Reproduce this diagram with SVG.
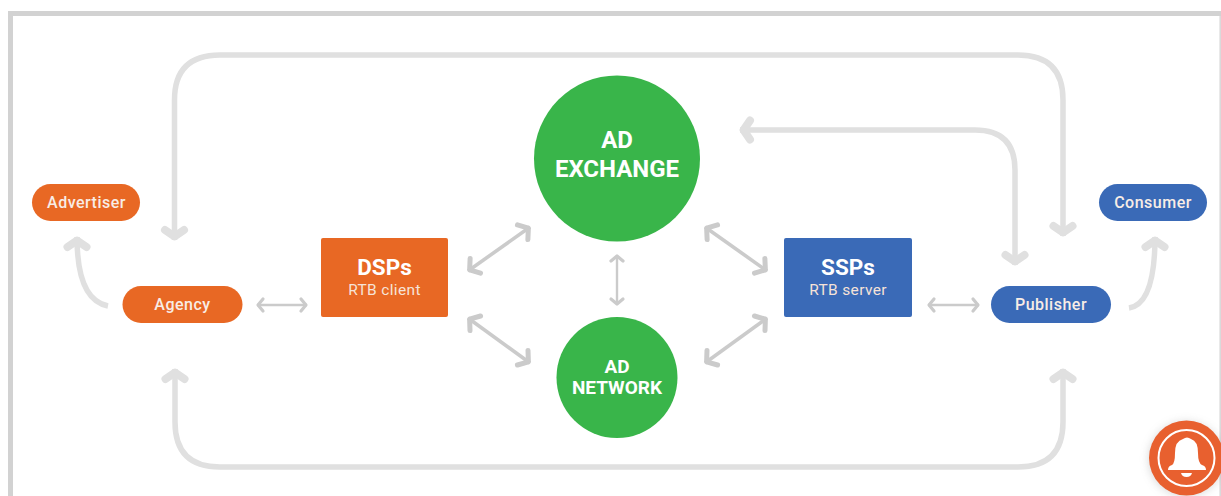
<svg xmlns="http://www.w3.org/2000/svg" width="1221" height="496" viewBox="0 0 1221 496">
<style>
text{font-family:Roboto,"Noto Sans","Liberation Sans",sans-serif;fill:#fff;text-anchor:middle}
.pill{font-size:16px;font-weight:500;letter-spacing:.5px;fill:#f8ede6}
.title{font-size:22.500px;font-weight:700}
.sub{font-size:15.500px;fill:#f6e3d8;letter-spacing:.35px}
.big{font-size:24px;font-weight:700}
.mid{font-size:19px;font-weight:700}
.org{fill:#e86824}.blu{fill:#3a6ab7}.grn{fill:#39b54a}
.thick{fill:none;stroke:#e0e0e0;stroke-width:5.500}
.thin{fill:none;stroke:#cbcbcb;stroke-width:2.400;marker-start:url(#hs);marker-end:url(#hs)}
</style>
<defs>
<marker id="hb" markerUnits="userSpaceOnUse" markerWidth="34" markerHeight="34" refX="27" refY="17" orient="auto-start-reverse" viewBox="0 0 34 34">
<path d="M17 7.500 L23.500 17 L17 26.500" fill="none" stroke="#e0e0e0" stroke-width="8" stroke-linecap="round" stroke-linejoin="round"/>
</marker>
<marker id="hs" markerUnits="userSpaceOnUse" markerWidth="20" markerHeight="20" refX="15" refY="10" orient="auto-start-reverse" viewBox="0 0 20 20">
<path d="M9 4 L14 10 L9 16" fill="none" stroke="#cbcbcb" stroke-width="3.200" stroke-linecap="round" stroke-linejoin="round"/>
</marker>
<marker id="hm" markerUnits="userSpaceOnUse" markerWidth="30" markerHeight="30" refX="23" refY="15" orient="auto-start-reverse" viewBox="0 0 30 30">
<path d="M14 6 L21 15 L14 24" fill="none" stroke="#cbcbcb" stroke-width="5" stroke-linecap="round" stroke-linejoin="round"/>
</marker>
<filter id="sh" x="-30%" y="-30%" width="160%" height="160%"><feGaussianBlur stdDeviation="5"/></filter>
</defs>
<rect width="1221" height="496" fill="#fff"/>
<path id="frame" d="M10.500 496 V13.500 H1221" fill="none" stroke="#d2d2d2" stroke-width="5"/>
<path d="M1220.200 16 V496" fill="none" stroke="#d8d8d8" stroke-width="1.500"/>
<g id="connectors">
<g class="thick">
<path d="M174.500 240 V100 Q174.500 55 220 55 H1018 Q1063 55 1063 100 V236" marker-start="url(#hb)" marker-end="url(#hb)"/>
<path d="M175 369 V422 Q175 467 220 467 H1018 Q1063 467 1063 422 V369" marker-start="url(#hb)" marker-end="url(#hb)"/>
<path d="M740 130 H975 Q1015 130 1015 170 V265" marker-start="url(#hb)" marker-end="url(#hb)"/>
<path d="M108 306 Q77 300 77 237" marker-end="url(#hb)"/>
<path d="M1129 308 Q1155 304 1155 237" marker-end="url(#hb)"/>
</g>
<path class="thin" d="M257 305 H307"/>
<path class="thin" d="M928 305 H979"/>
<path class="thin" d="M617 255 V305"/>
<g fill="none" stroke="#cbcbcb" stroke-width="3.600" marker-start="url(#hm)" marker-end="url(#hm)">
<path d="M468 271 L530 227"/>
<path d="M705 227 L767 271"/>
<path d="M468 318 L530 363"/>
<path d="M705 363 L767 318"/>
</g>
</g>
<g id="advertiser"><rect class="org" x="32" y="184" width="108" height="37" rx="18.500"/><text class="pill" x="86.500" y="208">Advertiser</text></g>
<g id="agency"><rect class="org" x="122.500" y="286" width="120" height="37" rx="18.500"/><text class="pill" x="182.500" y="310">Agency</text></g>
<g id="dsps"><rect class="org" x="321" y="238" width="127" height="79" rx="2"/><text class="title" x="384.500" y="275">DSPs</text><text class="sub" x="384.500" y="295">RTB client</text></g>
<g id="ad-exchange"><circle class="grn" cx="617" cy="158.500" r="83"/><text class="big" x="617" y="148">AD</text><text class="big" x="617" y="177">EXCHANGE</text></g>
<g id="ad-network"><circle class="grn" cx="617" cy="377.500" r="60.500"/><text class="mid" x="617" y="373">AD</text><text class="mid" x="617" y="394">NETWORK</text></g>
<g id="ssps"><rect class="blu" x="784" y="238" width="128" height="79" rx="2"/><text class="title" x="848" y="275">SSPs</text><text class="sub" x="848" y="295">RTB server</text></g>
<g id="publisher"><rect class="blu" x="991" y="286" width="120" height="37" rx="18.500"/><text class="pill" x="1051" y="310">Publisher</text></g>
<g id="consumer"><rect class="blu" x="1099" y="184" width="108" height="37" rx="18.500"/><text class="pill" x="1153" y="208">Consumer</text></g>
<g id="bell">
<circle cx="1186" cy="459" r="37" fill="#888" opacity=".35" filter="url(#sh)"/>
<circle cx="1186.500" cy="458" r="37.500" fill="#e8602f"/>
<circle cx="1186.500" cy="458" r="28" fill="none" stroke="#fff" stroke-width="2"/>
<path d="M1168 470 Q1168 466 1172 465 Q1175 463 1175 453 Q1175 441 1183 439 Q1187 436 1191 439 Q1198 441 1198 453 Q1198 463 1202 465 Q1206 466 1206 470 Z" fill="#fff"/>
<path d="M1181 473 H1192 Q1191 477 1186.500 477 Q1182 477 1181 473Z" fill="#fff"/>
</g>
</svg>
